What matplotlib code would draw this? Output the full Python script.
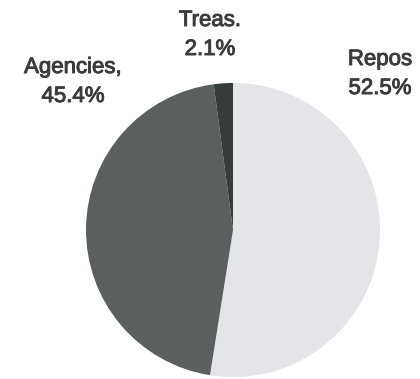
import matplotlib.pyplot as plt
import matplotlib.patheffects as pe

# Portfolio shares (%)
labels = ['Repos', 'Agencies', 'Treas.']
shares = [52.5, 45.4, 2.1]
colors = ['#e3e5e9', '#5b5f5e', '#363c3a']
label_texts = ['Repos\n52.5%', 'Agencies,\n45.4%', 'Treas.\n2.1%']

W, H = 420, 379
fig = plt.figure(figsize=(W / 100, H / 100), dpi=100)

# pie centre ~ (233, 230) px, radius ~147 px
cx, cy, r = 233, 230, 147
ax = fig.add_axes([(cx - r) / W, (H - cy - r) / H, 2 * r / W, 2 * r / H])
ax.pie(shares, colors=colors, startangle=90, counterclock=False,
       wedgeprops=dict(linewidth=0))
ax.set_xlim(-1, 1)
ax.set_ylim(-1, 1)
ax.set_aspect('equal')

# label centres in pixels
label_pos = [(380, 74), (73, 82), (210, 35)]
for txt, (x, y) in zip(label_texts, label_pos):
    t = fig.text(x / W, 1 - y / H, txt, ha='center', va='center',
                 fontsize=16, color='#3c3c3c',
                 family='Liberation Sans', linespacing=1.5)
    # scanned text looks a bit heavier than plain Arial
    t.set_path_effects([pe.withStroke(linewidth=0.7, foreground='#3c3c3c')])

fig.savefig('out.png', dpi=100)
